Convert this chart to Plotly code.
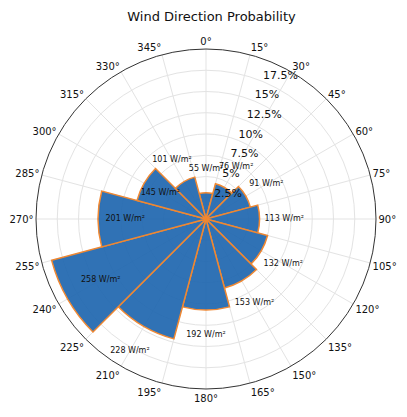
import plotly.graph_objects as go

# wind rose: 12 sectors of 30 deg, probability (%) + mean power density label
DIRS = [0, 30, 60, 90, 120, 150, 180, 210, 240, 270, 300, 330]
PROB = [3.1, 4.3, 5.4, 6.3, 7.5, 8.4, 10.7, 14.6, 18.8, 12.7, 8.4, 5.1]
POWER = [55, 76, 91, 113, 132, 153, 192, 228, 258, 201, 145, 101]
LABEL_R = [5.9, 7.1, 8.2, 9.2, 10.5, 11.4, 13.7, 17.9, 14.3, 9.5, 6.2, 8.0]
R_TICKS = [2.5, 5, 7.5, 10, 12.5, 15, 17.5]
RLABEL_THETA = 22.5  # matplotlib default rlabel position

FONT = "DejaVu Sans"
BLUE = "rgb(31,103,175)"
ORANGE = "#f07f22"

fig = go.Figure()
fig.add_trace(go.Barpolar(
    r=PROB, theta=DIRS, width=30, opacity=0.92,
    marker=dict(color=BLUE, line=dict(color=ORANGE, width=1.5)),
    showlegend=False, hoverinfo="skip"))
fig.add_trace(go.Scatterpolar(
    r=LABEL_R, theta=DIRS, mode="text",
    text=[str(p) + " W/m²" for p in POWER],
    textfont=dict(family=FONT, size=8, color="#111"),
    showlegend=False, hoverinfo="skip"))
# radial tick labels, placed like matplotlib's (bottom-left at the grid ring)
fig.add_trace(go.Scatterpolar(
    r=R_TICKS, theta=[RLABEL_THETA] * len(R_TICKS), mode="text",
    text=[("%g" % v) + "%" for v in R_TICKS], textposition="top right",
    textfont=dict(family=FONT, size=11, color="#111"),
    showlegend=False, hoverinfo="skip"))

fig.update_layout(
    width=407, height=417,
    margin=dict(l=28, r=39, t=41, b=36),
    paper_bgcolor="white",
    font=dict(family=FONT, color="#111"),
    title=dict(text="Wind Direction Probability", x=0.5, xanchor="center",
               y=1 - 4 / 417, yanchor="top", font=dict(family=FONT, size=13, color="#111")),
    polar=dict(
        bgcolor="white", bargap=0,
        angularaxis=dict(rotation=90, direction="clockwise", dtick=15, ticks="",
                         showline=True, linecolor="#333", linewidth=1,
                         gridcolor="#e3e3e3", tickfont=dict(size=10)),
        radialaxis=dict(range=[0, 20], tickvals=R_TICKS, showticklabels=False,
                        angle=67.5, showline=False, ticks="",
                        gridcolor="#e3e3e3"),
    ),
)
fig.write_html("out.html")
